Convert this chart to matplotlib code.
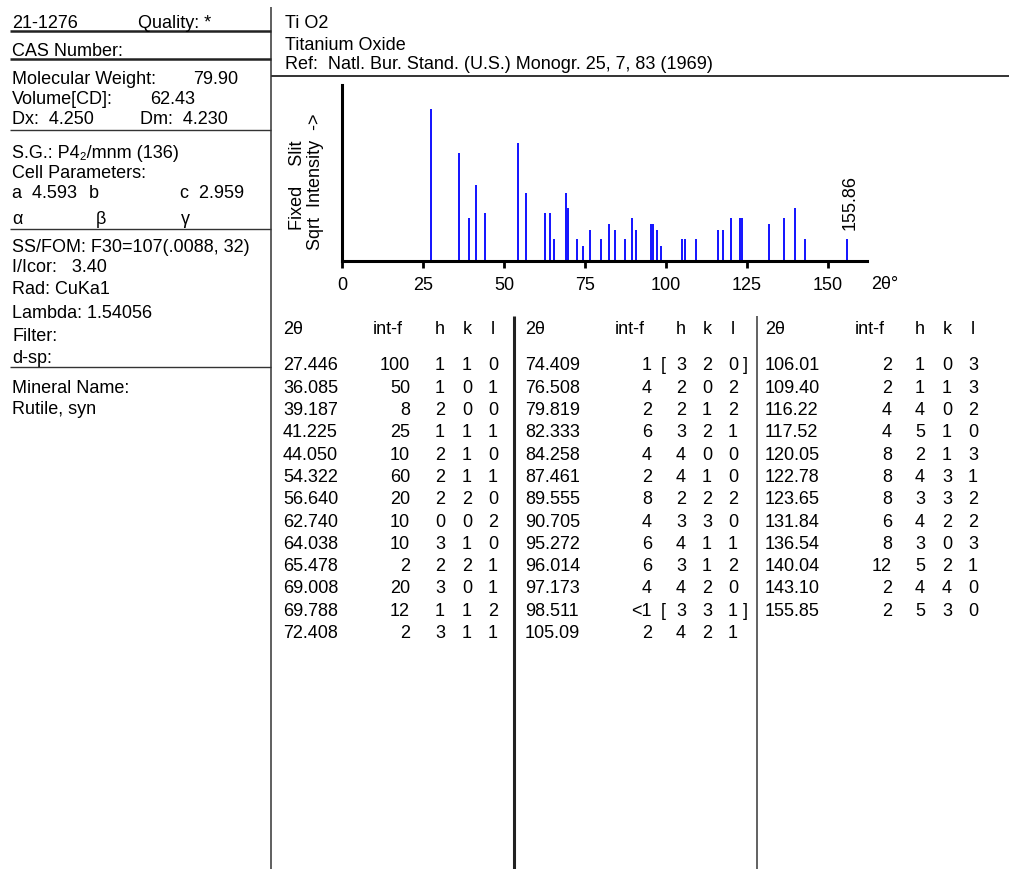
import numpy as np
import matplotlib
matplotlib.use("Agg")
import matplotlib.pyplot as plt

plt.rcParams['font.family'] = ['Liberation Sans', 'DejaVu Sans']
plt.rcParams['font.size'] = 13

# Powder pattern for rutile (TiO2), card 21-1276
two_theta = ["27.446", "36.085", "39.187", "41.225", "44.050", "54.322", "56.640",
             "62.740", "64.038", "65.478", "69.008", "69.788", "72.408",
             "74.409", "76.508", "79.819", "82.333", "84.258", "87.461", "89.555",
             "90.705", "95.272", "96.014", "97.173", "98.511", "105.09",
             "106.01", "109.40", "116.22", "117.52", "120.05", "122.78", "123.65",
             "131.84", "136.54", "140.04", "143.10", "155.85"]
int_f = ["100", "50", "8", "25", "10", "60", "20", "10", "10", "2", "20", "12", "2",
         "1", "4", "2", "6", "4", "2", "8", "4", "6", "6", "4", "<1", "2",
         "2", "2", "4", "4", "8", "8", "8", "6", "8", "12", "2", "2"]
h_idx = [1, 1, 2, 1, 2, 2, 2, 0, 3, 2, 3, 1, 3,
         3, 2, 2, 3, 4, 4, 2, 3, 4, 3, 4, 3, 4,
         1, 1, 4, 5, 2, 4, 3, 4, 3, 5, 4, 5]
k_idx = [1, 0, 0, 1, 1, 1, 2, 0, 1, 2, 0, 1, 1,
         2, 0, 1, 2, 0, 1, 2, 3, 1, 1, 2, 3, 2,
         0, 1, 0, 1, 1, 3, 3, 2, 0, 2, 4, 3]
l_idx = [0, 1, 0, 1, 0, 1, 0, 2, 0, 1, 1, 2, 1,
         0, 2, 2, 1, 0, 0, 2, 0, 1, 2, 0, 1, 1,
         3, 3, 2, 0, 3, 1, 2, 2, 3, 1, 0, 0]
bracketed = {13, 24}
column_rows = [13, 13, 12]

x_ticks = [0, 25, 50, 75, 100, 125, 150]
last_peak_label = "155.86"

fig = plt.figure(figsize=(10.09, 8.70), dpi=100)

# pixel-space canvas for the card layout
bg = fig.add_axes([0, 0, 1, 1])
bg.set_xlim(0, 1009)
bg.set_ylim(870, 0)
bg.axis('off')


def put(x, y, s, ha='left', **kw):
    bg.text(x, y, s, ha=ha, va='baseline', color='black', **kw)


def hline(y, x0, x1, lw, color='#222222'):
    bg.plot([x0, x1], [y, y], color=color, lw=lw, solid_capstyle='butt')


def vline(x, y0, y1, lw, color='#222222'):
    bg.plot([x, x], [y0, y1], color=color, lw=lw, solid_capstyle='butt')


# frame lines
vline(271, 8, 870, 1.2, '#444444')
hline(77, 271, 1009, 1.4, '#333333')
hline(32, 10, 271, 1.8)
hline(60, 10, 271, 1.8)
hline(131, 10, 271, 1.0, '#333333')
hline(230, 10, 271, 1.0, '#333333')
hline(368, 10, 271, 1.0, '#333333')
vline(513.5, 317, 870, 2.2, '#222222')
vline(757, 317, 870, 1.3, '#555555')

# left info panel
put(12, 28, "21-1276")
put(138, 28, "Quality: *")
put(12, 56.5, "CAS Number:")
put(12, 84, "Molecular Weight:")
put(193, 84, "79.90")
put(12, 104, "Volume[CD]:")
put(150, 104, "62.43")
put(12, 123.5, "Dx:  4.250")
put(140, 123.5, "Dm:  4.230")
put(12, 158, "S.G.: P4₂/mnm (136)")
put(12, 178, "Cell Parameters:")
put(12, 198, "a  4.593")
put(89, 198, "b")
put(180, 198, "c  2.959")
put(12, 224, "α")
put(96, 224, "β")
put(181, 224, "γ")
put(12, 251.5, "SS/FOM: F30=107(.0088, 32)")
put(12, 272.5, "I/Icor:   3.40")
put(12, 294.5, "Rad: CuKa1")
put(12, 318, "Lambda: 1.54056")
put(12, 341.5, "Filter:")
put(12, 363, "d-sp:")
put(12, 393, "Mineral Name:")
put(12, 414.5, "Rutile, syn")

# compound header
put(285, 27.5, "Ti O2")
put(285, 49.5, "Titanium Oxide")
put(285, 69, "Ref:  Natl. Bur. Stand. (U.S.) Monogr. 25, 7, 83 (1969)")

# reflection table, three column groups
groups = [
    dict(tt=283, intr=410, h=440, k=467, l=493),
    dict(tt=525, intr=652, h=681, k=707, l=733),
    dict(tt=765, intr=892, h=920, k=947, l=973),
]
row0, dy = 370.5, 22.3
start = 0
for g, n in zip(groups, column_rows):
    put(g['tt'], 334.5, "2θ")
    put(g['intr'] - 37, 334.5, "int-f")
    put(g['h'], 334.5, "h", ha='center')
    put(g['k'], 334.5, "k", ha='center')
    put(g['l'], 334.5, "l", ha='center')
    for r in range(n):
        i = start + r
        y = row0 + r * dy
        put(g['tt'], y, two_theta[i])
        put(g['intr'], y, int_f[i], ha='right')
        put(g['h'], y, str(h_idx[i]), ha='center')
        put(g['k'], y, str(k_idx[i]), ha='center')
        put(g['l'], y, str(l_idx[i]), ha='center')
        if i in bracketed:
            put(g['intr'] + 11, y, "[", ha='center')
            put(g['l'] + 12, y, "]", ha='center')
    start += n

# stick pattern, square-root intensity scale
W, H = 1009.0, 870.0
x0_px, x1_px = 342.3, 866.8
y0_px, y1_px = 261.7, 86.0
ax = fig.add_axes([x0_px / W, (H - y0_px) / H, (x1_px - x0_px) / W, (y0_px - y1_px) / H])
ax.patch.set_alpha(0)

pos = np.array([float(t) for t in two_theta])
inten = np.array([float(s.lstrip('<')) for s in int_f])
ax.vlines(pos, 0, np.sqrt(inten), color='#0000ff', lw=1.3)

ax.set_xlim(0, 162.1)
ax.set_ylim(0, 11.58)
for side in ['top', 'right']:
    ax.spines[side].set_visible(False)
for side in ['left', 'bottom']:
    ax.spines[side].set_linewidth(2.2)
    ax.spines[side].set_color('black')
ax.set_yticks([])
ax.set_xticks(x_ticks)
ax.set_xticklabels([str(t) for t in x_ticks])
ax.tick_params(axis='x', direction='out', length=5, width=2, pad=6, labelsize=13)

bg.text(871, 285, "2θ°", ha='left', va='center')
bg.text(850, 202, last_peak_label, rotation=90, ha='center', va='center')
bg.text(297, 185, "Fixed    Slit", rotation=90, ha='center', va='center')
bg.text(316, 182, "Sqrt  Intensity  ->", rotation=90, ha='center', va='center')

fig.savefig("out.png", dpi=100)
